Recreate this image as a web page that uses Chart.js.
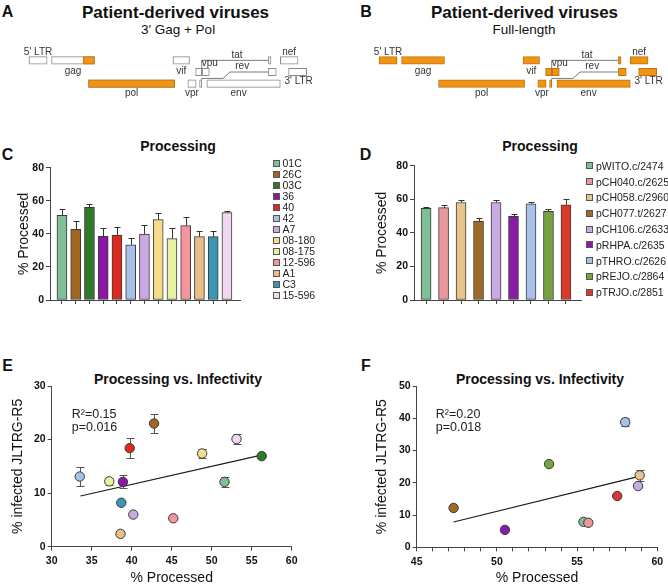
<!DOCTYPE html>
<html><head><meta charset="utf-8">
<script src="https://cdn.jsdelivr.net/npm/chart.js@4/dist/chart.umd.min.js"></script>
<style>
html,body{margin:0;padding:0;background:#fff;}
body{width:668px;height:588px;position:relative;overflow:hidden;font-family:"Liberation Sans",Arial,Helvetica,sans-serif;color:#111;}
.t{position:absolute;white-space:nowrap;line-height:1;transform:translate(-50%,-50%);}
.b{font-weight:bold;}
canvas{position:absolute;}
.lg{position:absolute;height:12px;line-height:12px;font-size:10.5px;white-space:nowrap;color:#222;}
.sw{display:inline-block;width:5px;height:5px;border:1px solid #555;margin-right:3px;vertical-align:middle;position:relative;top:-1px;}
</style></head>
<body>
<div class="t b" style="left:7.5px;top:11.5px;font-size:16px;">A</div>
<div class="t b" style="left:366px;top:11.5px;font-size:16px;">B</div>
<div class="t b" style="left:175.5px;top:11.5px;font-size:17px;">Patient-derived viruses</div>
<div class="t b" style="left:524.5px;top:11.5px;font-size:17px;">Patient-derived viruses</div>
<div class="t" style="left:178px;top:29.5px;font-size:13.5px;">3' Gag + Pol</div>
<div class="t" style="left:524px;top:29.5px;font-size:13.5px;">Full-length</div>

<div class="t b" style="left:7.5px;top:154.5px;font-size:16px;">C</div>
<div class="t b" style="left:365.5px;top:154.5px;font-size:16px;">D</div>
<div class="t b" style="left:178px;top:145.5px;font-size:14px;">Processing</div>
<div class="t b" style="left:540px;top:145.5px;font-size:14px;">Processing</div>

<div class="t b" style="left:7.5px;top:365.5px;font-size:16px;">E</div>
<div class="t b" style="left:366px;top:365.5px;font-size:16px;">F</div>
<div class="t b" style="left:178px;top:379px;font-size:14px;">Processing vs. Infectivity</div>
<div class="t b" style="left:540px;top:379px;font-size:14px;">Processing vs. Infectivity</div>

<canvas id="gA" width="334" height="70" style="left:0px;top:37px;width:334px;height:70px;"></canvas>
<canvas id="gB" width="334" height="70" style="left:334px;top:37px;width:334px;height:70px;"></canvas>
<canvas id="cC" width="334" height="180" style="left:0px;top:130px;width:334px;height:180px;"></canvas>
<canvas id="cD" width="334" height="180" style="left:334px;top:130px;width:334px;height:180px;"></canvas>
<canvas id="cE" width="334" height="218" style="left:0px;top:370px;width:334px;height:218px;"></canvas>
<canvas id="cF" width="334" height="218" style="left:334px;top:370px;width:334px;height:218px;"></canvas>
<div id="legC"></div>
<div id="legD"></div>

<script>
// ---------------- DATA ----------------
// Genome map (HXB2 nucleotide coordinates)
const geneNames = ["5' LTR", "gag", "pol", "vif", "vpr", "tat", "rev", "vpu", "env", "tat", "rev", "nef", "3' LTR"];
const geneStart = [1, 790, 2085, 5041, 5559, 5831, 5970, 6062, 6225, 8379, 8379, 8797, 9086];
const geneEnd   = [634, 2292, 5096, 5619, 5850, 6045, 6045, 6310, 8795, 8469, 8653, 9417, 9719];
const geneRow   = [1, 1, 3, 1, 3, 2, 3, 2, 3, 1, 2, 1, 2];
// Patient-derived part of the 3' Gag + Pol construct
const chimStart = [1890, 2085];
const chimEnd   = [2292, 5096];
const chimRow   = [1, 3];
// Splice connectors (x = nt, y = row)
const tatLinkX = [6045, 6045, 8379];
const tatLinkY = [1.68, 1.0, 1.0];
const revLinkX = [6045, 6045, 6790, 7035, 8379];
const revLinkY = [2.68, 2.55, 2.55, 2.0, 2.0];

// Panel C / E : 3' Gag + Pol viruses
const procCats   = ['01C','26C','03C','36','40','42','A7','08-180','08-175','12-596','A1','C3','15-596'];
const procValues = [51.2, 42.7, 56.0, 38.5, 39.3, 33.3, 39.9, 48.6, 37.1, 45.0, 38.3, 38.3, 52.8];
const procErrors = [4.0, 5.3, 2.0, 5.2, 5.1, 4.4, 5.5, 3.8, 6.6, 5.4, 3.6, 3.2, 1.0];
const procColors = ['#80be96','#a2671f','#2e7a2b','#8b17a7','#db2b20','#a6c0e8','#c9a8e4','#f6dc88','#e6f2a2','#f4959b','#e8bf88','#3b95b4','#f0d8f0'];
const infProcE   = [51.6, 42.8, 56.25, 38.9, 39.75, 33.5, 40.2, 48.8, 37.2, 45.2, 38.6, 38.7, 53.1];
const infValE    = [12.1, 23.0, 16.9, 12.1, 18.4, 13.1, 6.0, 17.4, 12.2, 5.3, 2.4, 8.2, 20.1];
const infErrE    = [1.0, 1.7, 0.3, 1.2, 1.8, 1.8, 0.3, 0.8, 0.6, 0.3, 0.3, 0.3, 1.0];
const fitXE = [33.6, 56.2];
const fitYE = [9.46, 17.1];
const statsE = ['R²=0.15', 'p=0.016'];

// Panel D / F : full-length viruses
const flCats   = ['pWITO.c/2474','pCH040.c/2625','pCH058.c/2960','pCH077.t/2627','pCH106.c/2633','pRHPA.c/2635','pTHRO.c/2626','pREJO.c/2864','pTRJO.c/2851'];
const flValues = [54.6, 55.0, 58.1, 47.0, 58.1, 49.8, 57.3, 52.8, 56.7];
const flErrors = [1.0, 1.3, 1.2, 1.6, 1.6, 1.6, 1.0, 1.2, 3.6];
const flColors = ['#7fbf95','#e8979b','#e6c48c','#9c6b28','#c9aae2','#8a1aa8','#a9c1e8','#76a23f','#d8392b'];
const infProcF = [55.4, 55.7, 58.9, 47.3, 58.8, 50.5, 58.0, 53.25, 57.5];
const infValF  = [7.9, 7.6, 22.3, 12.2, 19.0, 5.4, 38.8, 25.8, 15.9];
const infErrF  = [0.3, 0.3, 1.6, 0.3, 0.3, 0.3, 1.2, 0.3, 0.3];
const fitXF = [47.3, 58.8];
const fitYF = [7.85, 21.9];
const statsF = ['R²=0.20', 'p=0.018'];

// ---------------- STYLE ----------------
const FONT = '"Liberation Sans", Arial, Helvetica, sans-serif';
Chart.defaults.font.family = FONT;
Chart.defaults.color = '#111';
const AX = '#444';
const ORANGE = '#f29412', ORANGE_B = '#b8731a';

// ---------------- GENOME MAPS ----------------
function genome(id, offsetPx, withWhite) {
  const bpPerPx = 35;
  const c = document.getElementById(id);
  const xmin = -offsetPx * bpPerPx, xmax = xmin + c.width * bpPerPx;
  const datasets = [];
  if (withWhite) {
    datasets.push({ type:'bar', indexAxis:'y', grouped:false, barThickness:7.5,
      data: chimStart.map((s,i)=>({x:[s, chimEnd[i]], y: chimRow[i]})),
      backgroundColor: ORANGE, borderColor: ORANGE_B, borderWidth:1, borderSkipped:false });
    datasets.push({ type:'bar', indexAxis:'y', grouped:false, barThickness:7.5,
      data: geneStart.map((s,i)=>({x:[s, geneEnd[i]], y: geneRow[i]})),
      backgroundColor: '#ffffff', borderColor: '#8a8a8a', borderWidth:1, borderSkipped:false });
  } else {
    datasets.push({ type:'bar', indexAxis:'y', grouped:false, barThickness:7.5,
      data: geneStart.map((s,i)=>({x:[s, geneEnd[i]], y: geneRow[i]})),
      backgroundColor: ORANGE, borderColor: ORANGE_B, borderWidth:1, borderSkipped:false });
  }
  datasets.push({ type:'line', data: tatLinkX.map((x,i)=>({x, y: tatLinkY[i]})), borderColor:'#7a7a7a', borderWidth:1, pointRadius:0, fill:false, tension:0 });
  datasets.push({ type:'line', data: revLinkX.map((x,i)=>({x, y: revLinkY[i]})), borderColor:'#7a7a7a', borderWidth:1, pointRadius:0, fill:false, tension:0 });

  const labelSpec = [
    {g:0, dy:-8.5, dx:0}, {g:1, dy:10.5, dx:0}, {g:2, dy:9.5, dx:0}, {g:3, dy:10.5, dx:0},
    {g:4, dy:9.5, dx:0}, {g:7, dy:-9, dx:4}, {g:8, dy:9.5, dx:-5}, {g:11, dy:-8.5, dx:0}, {g:12, dy:9.5, dx:1}
  ];
  const labels = {
    id:'glabels',
    afterDraw(chart) {
      const ctx = chart.ctx, xs = chart.scales.x, ys = chart.scales.y;
      ctx.save();
      ctx.font = '10px ' + FONT; ctx.fillStyle = '#333'; ctx.textAlign = 'center'; ctx.textBaseline = 'middle';
      labelSpec.forEach(s => {
        const cx = (xs.getPixelForValue(geneStart[s.g]) + xs.getPixelForValue(geneEnd[s.g]))/2 + s.dx;
        ctx.fillText(geneNames[s.g], cx, ys.getPixelForValue(geneRow[s.g]) + s.dy);
      });
      const tx = (xs.getPixelForValue(tatLinkX[1]) + xs.getPixelForValue(tatLinkX[2]))/2 + 2;
      ctx.fillText(geneNames[5], tx, ys.getPixelForValue(tatLinkY[2]) - 5);
      const rx = (xs.getPixelForValue(revLinkX[3]) + xs.getPixelForValue(revLinkX[4]))/2 - 7;
      ctx.fillText(geneNames[6], rx, ys.getPixelForValue(revLinkY[4]) - 5.5);
      ctx.restore();
    }
  };
  new Chart(c, {
    type:'bar',
    data:{ datasets },
    options:{ responsive:false, animation:false, events:[], devicePixelRatio:1,
      layout:{padding:0},
      plugins:{legend:{display:false}, tooltip:{enabled:false}},
      scales:{
        x:{type:'linear', min:xmin, max:xmax, display:false, offset:false},
        y:{type:'linear', min:-1, max:5, reverse:true, display:false, offset:false}
      }
    },
    plugins:[labels]
  });
}
genome('gA', 29, true);
genome('gB', 45, false);

// ---------------- BAR CHARTS ----------------
function errBars(errs) {
  return { id:'errbars', afterDatasetsDraw(chart) {
    const ctx = chart.ctx, ys = chart.scales.y, meta = chart.getDatasetMeta(0), ds = chart.data.datasets[0];
    ctx.save(); ctx.strokeStyle = '#333'; ctx.lineWidth = 1;
    meta.data.forEach((bar, i) => {
      const v = ds.data[i].y;
      const x = Math.round(bar.x) + 0.5;
      const y0 = ys.getPixelForValue(v), y1 = Math.round(ys.getPixelForValue(v + errs[i])) + 0.5;
      ctx.beginPath(); ctx.moveTo(x, y0); ctx.lineTo(x, y1);
      ctx.moveTo(x - 3, y1); ctx.lineTo(x + 3, y1); ctx.stroke();
    });
    ctx.restore();
  }};
}
function barChart(id, cats, vals, errs, cols, o) {
  new Chart(document.getElementById(id), {
    type:'bar',
    data:{ datasets:[{ data: vals.map((v,i)=>({x:i, y:v})), backgroundColor: cols, borderColor:'#3a3a3a', borderWidth:1, borderSkipped:false, barThickness:10 }]},
    options:{ responsive:false, animation:false, events:[], devicePixelRatio:1,
      layout:{padding:{left:o.padL, right:o.padR, top:o.padT, bottom:0}},
      plugins:{legend:{display:false}, tooltip:{enabled:false}},
      scales:{
        x:{ type:'linear', min:o.xmin, max:o.xmax, offset:false,
            afterBuildTicks: s => { s.ticks = cats.map((c,i)=>({value:i})); },
            ticks:{ callback: () => '', autoSkip:false, maxRotation:0 },
            grid:{ display:true, drawOnChartArea:false, drawTicks:true, tickLength:4, color:AX, offset:false },
            border:{ display:true, color:AX, width:1 },
            afterFit: s => { s.height = 10; } },
        y:{ min:0, max:80, ticks:{ stepSize:20, font:{size:10.5, weight:'bold'}, color:'#111', padding:2 },
            grid:{ drawOnChartArea:false, tickLength:4, color:AX },
            border:{ color:AX, width:1 },
            title:{ display:true, text:'% Processed', font:{size:14}, color:'#111', padding:{top:0, bottom:0} },
            afterFit: s => { s.width = o.yw; } }
      }
    },
    plugins:[errBars(errs)]
  });
}
barChart('cC', procCats, procValues, procErrors, procColors, {padL:15.6, yw:34.4, padT:37.7, padR:94, xmin:-0.87, xmax:12.95});
barChart('cD', flCats, flValues, flErrors, flColors, {padL:39.6, yw:40.4, padT:35.7, padR:87, xmin:-0.69, xmax:8.86});

function legend(elId, cats, cols, left, top0, pitch) {
  const el = document.getElementById(elId);
  cats.forEach((c, i) => {
    const d = document.createElement('div');
    d.className = 'lg';
    d.style.left = left + 'px';
    d.style.top = (top0 + i * pitch - 6) + 'px';
    d.innerHTML = '<span class="sw" style="background:' + cols[i] + '"></span>' + c;
    el.appendChild(d);
  });
}
legend('legC', procCats, procColors, 272.5, 163.3, 11);
legend('legD', flCats, flColors, 586, 165.7, 15.8);

// ---------------- SCATTER CHARTS ----------------
function scatterExtras(errs, stats, dx) {
  return { id:'scx',
    beforeDatasetsDraw(chart) {
      const ctx = chart.ctx, xs = chart.scales.x, ys = chart.scales.y, ds = chart.data.datasets[0];
      ctx.save(); ctx.strokeStyle = '#555'; ctx.lineWidth = 1;
      ds.data.forEach((p, i) => {
        if (errs[i] < 0.5) return;
        const x = Math.round(xs.getPixelForValue(p.x)) + 0.5;
        const a = Math.round(ys.getPixelForValue(p.y + errs[i])) + 0.5, b = Math.round(ys.getPixelForValue(p.y - errs[i])) + 0.5;
        ctx.beginPath(); ctx.moveTo(x, a); ctx.lineTo(x, b);
        ctx.moveTo(x - 4, a); ctx.lineTo(x + 4, a); ctx.moveTo(x - 4, b); ctx.lineTo(x + 4, b); ctx.stroke();
      });
      ctx.restore();
    },
    afterDraw(chart) {
      const ctx = chart.ctx, ca = chart.chartArea;
      ctx.save(); ctx.font = '12.5px ' + FONT; ctx.fillStyle = '#222'; ctx.textBaseline = 'middle'; ctx.textAlign = 'left';
      ctx.fillText(stats[0], ca.left + dx, ca.top + 29);
      ctx.fillText(stats[1], ca.left + dx, ca.top + 42);
      ctx.restore();
    }
  };
}
function scatterChart(id, xs, ys, errs, cols, fx, fy, stats, o) {
  new Chart(document.getElementById(id), {
    type:'scatter',
    data:{ datasets:[
      { data: xs.map((x,i)=>({x, y: ys[i]})), pointRadius:4.7, pointBackgroundColor: cols, pointBorderColor:'#3a3a3a', pointBorderWidth:1 },
      { type:'line', data: fx.map((x,i)=>({x, y: fy[i]})), borderColor:'#1a1a1a', borderWidth:1.2, pointRadius:0, fill:false, showLine:true }
    ]},
    options:{ responsive:false, animation:false, events:[], devicePixelRatio:1,
      layout:{padding:{left:o.padL, right:o.padR, top:16, bottom:0}},
      plugins:{legend:{display:false}, tooltip:{enabled:false}},
      scales:{
        x:{ type:'linear', min:o.xmin, max:o.xmax,
            ticks:{ stepSize:o.xstep, autoSkip:false, maxRotation:0, font:{size:10.5, weight:'bold'}, color:'#111', padding:4.5,
                    callback: v => (v % 5 === 0 ? v : '') },
            grid:{ drawOnChartArea:false, tickLength:4, color:AX },
            border:{ color:AX, width:1 },
            title:{ display:true, text:'% Processed', font:{size:14}, color:'#111', padding:{top:0, bottom:1.6} },
            afterFit: s => { s.height = o.xh; } },
        y:{ min:0, max:o.ymax, ticks:{ stepSize:10, font:{size:10.5, weight:'bold'}, color:'#111', padding:2 },
            grid:{ drawOnChartArea:false, tickLength:4, color:AX },
            border:{ color:AX, width:1 },
            title:{ display:true, text:'% infected JLTRG-R5', font:{size:14}, color:'#111', padding:{top:0, bottom:0} },
            afterFit: s => { s.width = o.yw; } }
      }
    },
    plugins:[scatterExtras(errs, stats, o.sdx)]
  });
}
scatterChart('cE', infProcE, infValE, infErrE, procColors, fitXE, fitYE, statsE,
  {padL:9.6, yw:42.1, padR:42.3, xh:41.3, xmin:30, xmax:60, xstep:5, ymax:30, sdx:20});
scatterChart('cF', infProcF, infValF, infErrF, flColors, fitXF, fitYF, statsF,
  {padL:39.6, yw:43.1, padR:10.7, xh:40.7, xmin:45, xmax:60, xstep:1, ymax:50, sdx:19});
</script>
</body></html>
